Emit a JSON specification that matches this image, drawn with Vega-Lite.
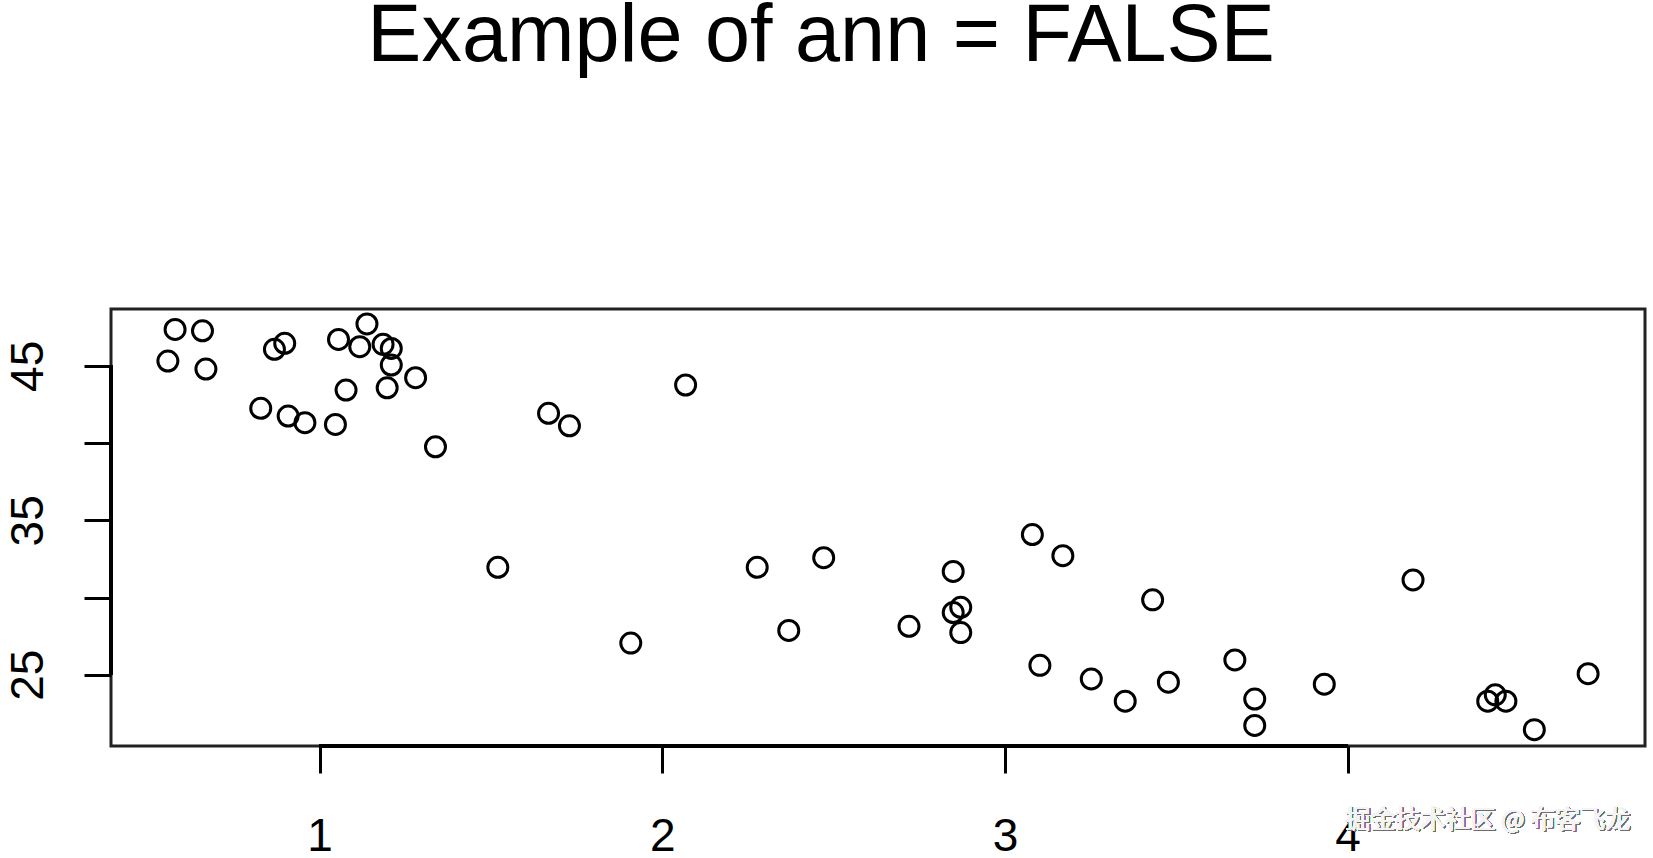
{
  "$schema": "https://vega.github.io/schema/vega-lite/v6.json",
  "width": 1534,
  "height": 437,
  "autosize": {"type": "none"},
  "padding": {"left": 111, "top": 309, "right": 8, "bottom": 112},
  "background": "white",
  "config": {
    "view": {"stroke": "#222222", "strokeWidth": 3},
    "font": "Liberation Sans"
  },
  "title": {
    "text": "Example of ann = FALSE",
    "fontSize": 81,
    "fontWeight": "normal",
    "font": "Liberation Sans",
    "color": "black",
    "anchor": "middle",
    "baseline": "alphabetic",
    "offset": 166,
    "dx": -57
  },
  "data": {
    "values": [
      {"x": 0.557, "y": 45.31}, {"x": 0.578, "y": 47.36}, {"x": 0.658, "y": 47.27}, {"x": 0.668, "y": 44.79},
      {"x": 0.828, "y": 42.25}, {"x": 0.868, "y": 46.07}, {"x": 0.898, "y": 46.46}, {"x": 0.908, "y": 41.75},
      {"x": 0.957, "y": 41.32}, {"x": 1.046, "y": 41.21}, {"x": 1.055, "y": 46.71}, {"x": 1.077, "y": 43.43},
      {"x": 1.117, "y": 46.24}, {"x": 1.138, "y": 47.71}, {"x": 1.185, "y": 46.39}, {"x": 1.209, "y": 46.13},
      {"x": 1.209, "y": 45.05}, {"x": 1.197, "y": 43.58}, {"x": 1.280, "y": 44.23}, {"x": 1.338, "y": 39.76},
      {"x": 1.520, "y": 31.96}, {"x": 1.668, "y": 41.93}, {"x": 1.729, "y": 41.12}, {"x": 1.908, "y": 27.05},
      {"x": 2.068, "y": 43.76}, {"x": 2.277, "y": 31.96}, {"x": 2.369, "y": 27.87}, {"x": 2.471, "y": 32.58},
      {"x": 2.720, "y": 28.14}, {"x": 2.849, "y": 31.69}, {"x": 2.849, "y": 29.03}, {"x": 2.871, "y": 29.37},
      {"x": 2.871, "y": 27.73}, {"x": 3.080, "y": 34.08}, {"x": 3.169, "y": 32.71}, {"x": 3.102, "y": 25.61},
      {"x": 3.252, "y": 24.73}, {"x": 3.351, "y": 23.29}, {"x": 3.431, "y": 29.85}, {"x": 3.477, "y": 24.52},
      {"x": 3.671, "y": 25.96}, {"x": 3.729, "y": 23.43}, {"x": 3.729, "y": 21.72}, {"x": 3.932, "y": 24.39},
      {"x": 4.191, "y": 31.14}, {"x": 4.409, "y": 23.29}, {"x": 4.431, "y": 23.70}, {"x": 4.462, "y": 23.29},
      {"x": 4.545, "y": 21.45}, {"x": 4.702, "y": 25.07}
    ]
  },
  "layer": [
    {
      "mark": {"type": "point", "shape": "circle", "filled": false, "stroke": "black", "strokeWidth": 3, "size": 400, "opacity": 1},
      "encoding": {
        "x": {
          "field": "x", "type": "quantitative",
          "scale": {"domain": [0.391, 4.868], "nice": false, "zero": false},
          "axis": {
            "title": null, "grid": false, "domain": false,
            "values": [1, 2, 3, 4], "format": "d",
            "tickSize": 27, "tickWidth": 3, "tickColor": "black",
            "labelFontSize": 46, "labelFont": "Liberation Sans", "labelColor": "black",
            "labelPadding": 41, "labelFlush": false
          }
        },
        "y": {
          "field": "y", "type": "quantitative",
          "scale": {"domain": [20.39, 48.68], "nice": false, "zero": false},
          "axis": {
            "title": null, "grid": false, "domain": false,
            "values": [25, 30, 35, 40, 45],
            "labelExpr": "datum.value % 10 == 5 ? datum.label : ''",
            "tickSize": 27, "tickWidth": 3, "tickColor": "black",
            "labelFontSize": 46, "labelFont": "Liberation Sans", "labelColor": "black",
            "labelAngle": -90, "labelPadding": 32, "labelFlush": false
          }
        }
      }
    },
    {
      "mark": {"type": "rule", "stroke": "black", "strokeWidth": 3.5, "clip": false},
      "encoding": {
        "x": {"datum": 1},
        "x2": {"datum": 4},
        "y": {"datum": 20.39}
      }
    },
    {
      "mark": {"type": "rule", "stroke": "black", "strokeWidth": 3.5, "clip": false},
      "encoding": {
        "x": {"datum": 0.391},
        "y": {"datum": 25},
        "y2": {"datum": 45}
      }
    },
    {
      "mark": {"type": "text", "font": "Noto Sans CJK SC", "fontSize": 25, "align": "left", "baseline": "middle", "fill": "#6e6e6e", "dx": 1.5, "dy": 1.5, "clip": false},
      "encoding": {
        "x": {"datum": 3.993},
        "y": {"datum": 15.6},
        "text": {"value": "掘金技术社区 @ 布客飞龙"}
      }
    },
    {
      "mark": {"type": "text", "font": "Noto Sans CJK SC", "fontSize": 25, "align": "left", "baseline": "middle", "fill": "#f4f4f4", "clip": false},
      "encoding": {
        "x": {"datum": 3.993},
        "y": {"datum": 15.6},
        "text": {"value": "掘金技术社区 @ 布客飞龙"}
      }
    }
  ]
}
